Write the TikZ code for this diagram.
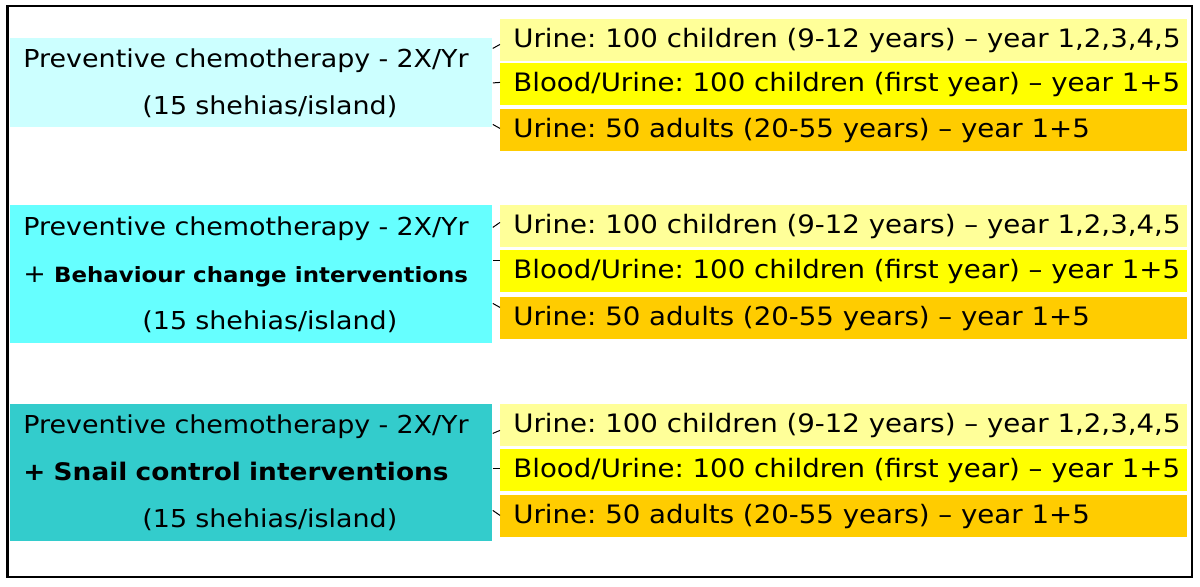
\documentclass[tikz,border=0pt]{standalone}
\usepackage{fontspec}
\setmainfont{DejaVu Sans}[FakeStretch=1.09]
\usepackage{xcolor}
\usetikzlibrary{positioning}
\frenchspacing

\definecolor{armpale}{HTML}{CCFFFF}
\definecolor{armmid}{HTML}{66FFFF}
\definecolor{armdark}{HTML}{33CCCC}
\definecolor{kidpale}{HTML}{FFFF99}
\definecolor{kidyel}{HTML}{FFFF00}
\definecolor{adultor}{HTML}{FFCC00}

\newcommand{\pcline}{Preventive chemotherapy - 2X/Yr}
\newcommand{\shline}{\hspace*{59.5pt}(15 shehias/island)}
\newcommand{\smptext}[1]{\makebox[330.5pt][l]{#1}}

\begin{document}
\begin{tikzpicture}[
    x=0.5pt, y=-0.5pt,
    arm/.style={rectangle, anchor=north west, minimum width=241pt, text width=228pt, inner xsep=6.5pt, inner ysep=0pt, align=left, font=\fontsize{12.35}{23.5}\selectfont},
    sample/.style={rectangle, anchor=north west, minimum width=343.5pt, minimum height=21pt, text height=9.7pt, text depth=2.2pt, inner xsep=6.5pt, inner ysep=0pt, font=\fontsize{12.68}{15}\selectfont},
    link/.style={line width=0.5pt}
]
    \useasboundingbox (0,0) rectangle (1200,586);
    \draw[line width=1.25pt] (7.5,6) rectangle (1192,577);

    % study arms
    \node[arm, fill=armpale, minimum height=44.5pt] (arm1) at (10,38) {\pcline\\\shline};
    \node[arm, fill=armmid, minimum height=69pt] (arm2) at (10,205) {\pcline\\+ {\bfseries\fontsize{10.5}{23.5}\selectfont Behaviour change interventions}\\\shline};
    \node[arm, fill=armdark, minimum height=68.5pt] (arm3) at (10,404) {\pcline\\{\bfseries\fontsize{12.1}{23.5}\selectfont + Snail control interventions}\\\shline};

    % sampling per arm
    \node[sample, fill=kidpale] (s11) at (500,19) {\smptext{Urine: 100 children (9-12 years) -- year 1,2,3,4,5}};
    \node[sample, fill=kidyel] (s12) at (500,63) {\smptext{Blood/Urine: 100 children (first year) -- year 1+5}};
    \node[sample, fill=adultor] (s13) at (500,109) {\smptext{Urine: 50 adults (20-55 years) -- year 1+5}};

    \node[sample, fill=kidpale] (s21) at (500,205) {\smptext{Urine: 100 children (9-12 years) -- year 1,2,3,4,5}};
    \node[sample, fill=kidyel] (s22) at (500,250) {\smptext{Blood/Urine: 100 children (first year) -- year 1+5}};
    \node[sample, fill=adultor] (s23) at (500,297) {\smptext{Urine: 50 adults (20-55 years) -- year 1+5}};

    \node[sample, fill=kidpale] (s31) at (500,404) {\smptext{Urine: 100 children (9-12 years) -- year 1,2,3,4,5}};
    \node[sample, fill=kidyel] (s32) at (500,449) {\smptext{Blood/Urine: 100 children (first year) -- year 1+5}};
    \node[sample, fill=adultor] (s33) at (500,495) {\smptext{Urine: 50 adults (20-55 years) -- year 1+5}};

    \draw[link] ([yshift=17.25pt]arm1.east) -- ([yshift=-2pt]s11.west);
    \draw[link] (arm1.east) -- ([yshift=1pt]s12.west);
    \draw[link] ([yshift=-20.75pt]arm1.east) -- ([yshift=1pt]s13.west);

    \draw[link] ([yshift=23.5pt]arm2.east) -- ([yshift=2pt]s21.west);
    \draw[link] ([yshift=7pt]arm2.east) -- ([yshift=5.5pt]s22.west);
    \draw[link] ([yshift=-14.5pt]arm2.east) -- ([yshift=5.5pt]s23.west);

    \draw[link] ([yshift=19.75pt]arm3.east) -- ([yshift=-2.5pt]s31.west);
    \draw[link] ([yshift=2.25pt]arm3.east) -- ([yshift=1pt]s32.west);
    \draw[link] ([yshift=-18.75pt]arm3.east) -- ([yshift=0.5pt]s33.west);
\end{tikzpicture}
\end{document}
